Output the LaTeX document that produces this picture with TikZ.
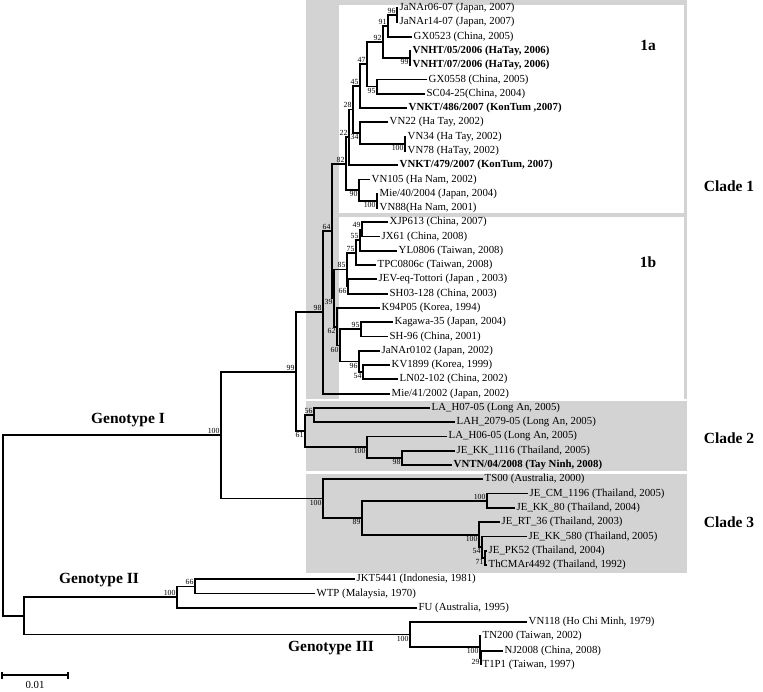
\documentclass[tikz,border=0pt]{standalone}
\usepackage{fontspec}
\setmainfont{Liberation Serif}
\definecolor{cladegray}{RGB}{211,211,211}

\begin{document}
\begin{tikzpicture}[x=1pt, y=-1pt,
  branch/.style={line width=1.8pt},
  taxon/.style={anchor=west, inner sep=1.5pt, font=\fontsize{10.8}{12}\selectfont},
  boot/.style={inner sep=1.3pt, font=\fontsize{7.8}{8}\selectfont},
  bootup/.style={boot, anchor=south east},
  bootdn/.style={boot, anchor=north east},
  group/.style={font=\bfseries\fontsize{15.5}{18}\selectfont}]
\useasboundingbox (0,0) rectangle (763,691);

% shaded clades
\fill[cladegray] (306,0) rectangle (687,399);
\fill[white] (339,5) rectangle (684,213);
\fill[white] (339,217) rectangle (684,399);
\fill[cladegray] (306,401) rectangle (687,471);
\fill[cladegray] (306,474) rectangle (687,573);

% taxa
\node[taxon] (t1) at (398,8.0) {JaNAr06-07 (Japan, 2007)};
\node[taxon] (t2) at (398,22.3) {JaNAr14-07 (Japan, 2007)};
\node[taxon] (t3) at (412,36.6) {GX0523 (China, 2005)};
\node[taxon] (t4) at (411,50.8) {\textbf{VNHT/05/2006 (HaTay, 2006)}};
\node[taxon] (t5) at (411,65.1) {\textbf{VNHT/07/2006 (HaTay, 2006)}};
\node[taxon] (t6) at (427,79.4) {GX0558 (China, 2005)};
\node[taxon] (t7) at (425,93.7) {SC04-25(China, 2004)};
\node[taxon] (t8) at (407,108.0) {\textbf{VNKT/486/2007 (KonTum ,2007)}};
\node[taxon] (t9) at (388,122.2) {VN22 (Ha Tay, 2002)};
\node[taxon] (t10) at (406,136.5) {VN34 (Ha Tay, 2002)};
\node[taxon] (t11) at (406,150.8) {VN78 (HaTay, 2002)};
\node[taxon] (t12) at (398,165.1) {\textbf{VNKT/479/2007 (KonTum, 2007)}};
\node[taxon] (t13) at (370,179.4) {VN105 (Ha Nam, 2002)};
\node[taxon] (t14) at (378,193.6) {Mie/40/2004 (Japan, 2004)};
\node[taxon] (t15) at (378,207.9) {VN88(Ha Nam, 2001)};
\node[taxon] (t16) at (388,222.2) {XJP613 (China, 2007)};
\node[taxon] (t17) at (380,236.5) {JX61 (China, 2008)};
\node[taxon] (t18) at (397,250.8) {YL0806 (Taiwan, 2008)};
\node[taxon] (t19) at (376,265.0) {TPC0806c (Taiwan, 2008)};
\node[taxon] (t20) at (377,279.3) {JEV-eq-Tottori (Japan , 2003)};
\node[taxon] (t21) at (388,293.6) {SH03-128 (China, 2003)};
\node[taxon] (t22) at (380,307.9) {K94P05 (Korea, 1994)};
\node[taxon] (t23) at (393,322.2) {Kagawa-35 (Japan, 2004)};
\node[taxon] (t24) at (388,336.4) {SH-96 (China, 2001)};
\node[taxon] (t25) at (380,350.7) {JaNAr0102 (Japan, 2002)};
\node[taxon] (t26) at (390,365.0) {KV1899 (Korea, 1999)};
\node[taxon] (t27) at (398,379.3) {LN02-102 (China, 2002)};
\node[taxon] (t28) at (390,393.6) {Mie/41/2002 (Japan, 2002)};
\node[taxon] (t29) at (430,407.8) {LA\_H07-05 (Long An, 2005)};
\node[taxon] (t30) at (455,422.1) {LAH\_2079-05 (Long An, 2005)};
\node[taxon] (t31) at (447,436.4) {LA\_H06-05 (Long An, 2005)};
\node[taxon] (t32) at (455,450.7) {JE\_KK\_1116 (Thailand, 2005)};
\node[taxon] (t33) at (452,465.0) {\textbf{VNTN/04/2008 (Tay Ninh, 2008)}};
\node[taxon] (t34) at (483,479.2) {TS00 (Australia, 2000)};
\node[taxon] (t35) at (528,493.5) {JE\_CM\_1196 (Thailand, 2005)};
\node[taxon] (t36) at (515,507.8) {JE\_KK\_80 (Thailand, 2004)};
\node[taxon] (t37) at (500,522.1) {JE\_RT\_36 (Thailand, 2003)};
\node[taxon] (t38) at (527,536.4) {JE\_KK\_580 (Thailand, 2005)};
\node[taxon] (t39) at (487,550.6) {JE\_PK52 (Thailand, 2004)};
\node[taxon] (t40) at (487,564.9) {ThCMAr4492 (Thailand, 1992)};
\node[taxon] (t41) at (355,579.2) {JKT5441 (Indonesia, 1981)};
\node[taxon] (t42) at (315,593.5) {WTP (Malaysia, 1970)};
\node[taxon] (t43) at (417,607.8) {FU (Australia, 1995)};
\node[taxon] (t44) at (527,622.0) {VN118 (Ho Chi Minh, 1979)};
\node[taxon] (t45) at (481,636.3) {TN200 (Taiwan, 2002)};
\node[taxon] (t46) at (503,650.6) {NJ2008 (China, 2008)};
\node[taxon] (t47) at (481,664.9) {T1P1 (Taiwan, 1997)};

% internal nodes
\coordinate (nJa) at (397,15.2);
\coordinate (nGX) at (388,25.9);
\coordinate (nHT) at (410,58.0);
\coordinate (nA92) at (383,41.9);
\coordinate (nSC) at (377,86.5);
\coordinate (nA47) at (367,64.2);
\coordinate (nA45) at (360,86.1);
\coordinate (nVN34) at (405,143.7);
\coordinate (nA34) at (360,133.0);
\coordinate (nA28) at (353,109.5);
\coordinate (nA22) at (349,137.3);
\coordinate (nMie) at (377,200.8);
\coordinate (nA90) at (359,190.1);
\coordinate (nA82) at (346,163.7);
\coordinate (nB49) at (362,229.4);
\coordinate (nB55) at (360,240.1);
\coordinate (nB75) at (356,252.6);
\coordinate (nB66) at (348,286.5);
\coordinate (nB85) at (347,269.5);
\coordinate (nB95) at (361,329.3);
\coordinate (nB54) at (363,372.2);
\coordinate (nB96) at (359,361.4);
\coordinate (nB60) at (340,345.4);
\coordinate (nB62) at (337,326.6);
\coordinate (nB39) at (334,298.1);
\coordinate (nC64) at (332,230.9);
\coordinate (nClade1) at (323,312.2);
\coordinate (nLA) at (314,415.0);
\coordinate (nTN) at (402,457.8);
\coordinate (nC100) at (367,447.1);
\coordinate (nClade2) at (305,431.1);
\coordinate (nC99) at (296,371.6);
\coordinate (nCM) at (487,500.7);
\coordinate (nPK) at (485,557.8);
\coordinate (nKK) at (482,547.1);
\coordinate (nRT) at (479,534.6);
\coordinate (nD89) at (362,517.6);
\coordinate (nClade3) at (323,498.4);
\coordinate (nGI) at (221,435.0);
\coordinate (nJKT) at (195,586.4);
\coordinate (nGII) at (177,597.1);
\coordinate (nNJ) at (481,657.7);
\coordinate (nTW) at (480,647.0);
\coordinate (nGIII) at (410,634.5);
\coordinate (nG23) at (24,615.8);
\coordinate (root) at (3,525.4);

% branches
\draw[branch] (t1.west) -| (nJa) |- (t2.west);
\draw[branch] (nJa) -| (nGX) |- (t3.west);
\draw[branch] (t4.west) -| (nHT) |- (t5.west);
\draw[branch] (nGX) -| (nA92) |- (nHT);
\draw[branch] (t6.west) -| (nSC) |- (t7.west);
\draw[branch] (nA92) -| (nA47) |- (nSC);
\draw[branch] (nA47) -| (nA45) |- (t8.west);
\draw[branch] (t10.west) -| (nVN34) |- (t11.west);
\draw[branch] (t9.west) -| (nA34) |- (nVN34);
\draw[branch] (nA45) -| (nA28) |- (nA34);
\draw[branch] (nA28) -| (nA22) |- (t12.west);
\draw[branch] (t14.west) -| (nMie) |- (t15.west);
\draw[branch] (t13.west) -| (nA90) |- (nMie);
\draw[branch] (nA22) -| (nA82) |- (nA90);
\draw[branch] (t16.west) -| (nB49) |- (t17.west);
\draw[branch] (nB49) -| (nB55) |- (t18.west);
\draw[branch] (nB55) -| (nB75) |- (t19.west);
\draw[branch] (t20.west) -| (nB66) |- (t21.west);
\draw[branch] (nB75) -| (nB85) |- (nB66);
\draw[branch] (t23.west) -| (nB95) |- (t24.west);
\draw[branch] (t26.west) -| (nB54) |- (t27.west);
\draw[branch] (t25.west) -| (nB96) |- (nB54);
\draw[branch] (nB95) -| (nB60) |- (nB96);
\draw[branch] (t22.west) -| (nB62) |- (nB60);
\draw[branch] (nB85) -| (nB39) |- (nB62);
\draw[branch] (nA82) -| (nC64) |- (nB39);
\draw[branch] (nC64) -| (nClade1) |- (t28.west);
\draw[branch] (t29.west) -| (nLA) |- (t30.west);
\draw[branch] (t32.west) -| (nTN) |- (t33.west);
\draw[branch] (t31.west) -| (nC100) |- (nTN);
\draw[branch] (nLA) -| (nClade2) |- (nC100);
\draw[branch] (nClade1) -| (nC99) |- (nClade2);
\draw[branch] (t35.west) -| (nCM) |- (t36.west);
\draw[branch] (t39.west) -| (nPK) |- (t40.west);
\draw[branch] (t38.west) -| (nKK) |- (nPK);
\draw[branch] (t37.west) -| (nRT) |- (nKK);
\draw[branch] (nCM) -| (nD89) |- (nRT);
\draw[branch] (t34.west) -| (nClade3) |- (nD89);
\draw[branch] (nC99) -| (nGI) |- (nClade3);
\draw[branch] (t41.west) -| (nJKT) |- (t42.west);
\draw[branch] (nJKT) -| (nGII) |- (t43.west);
\draw[branch] (t46.west) -| (nNJ) |- (t47.west);
\draw[branch] (t45.west) -| (nTW) |- (nNJ);
\draw[branch] (t44.west) -| (nGIII) |- (nTW);
\draw[branch] (nGII) -| (nG23) |- (nGIII);
\draw[branch] (nGI) -| (root) |- (nG23);

% bootstrap values
\node[bootup] at (nJa) {96};
\node[bootup] at (nGX) {91};
\node[bootup] at (nA92) {92};
\node[bootup] at (nA47) {47};
\node[bootup] at (nA45) {45};
\node[bootup] at (nA28) {28};
\node[bootup] at (nA22) {22};
\node[bootup] at (nA82) {82};
\node[bootup] at (nC64) {64};
\node[bootup] at (nB49) {49};
\node[bootup] at (nB55) {55};
\node[bootup] at (nB75) {75};
\node[bootup] at (nB85) {85};
\node[bootup] at (nB95) {95};
\node[bootup] at (nClade1) {98};
\node[bootup] at (nC99) {99};
\node[bootup] at (nLA) {56};
\node[bootup] at (nCM) {100};
\node[bootup] at (nGI) {100};
\node[bootup] at (nJKT) {66};
\node[bootup] at (nGII) {100};
\node[bootdn] at (nHT) {99};
\node[bootdn] at (nSC) {95};
\node[bootdn] at (nA34) {34};
\node[bootdn] at (nVN34) {100};
\node[bootdn] at (nMie) {100};
\node[bootdn] at (nA90) {90};
\node[bootdn] at (nB66) {66};
\node[bootdn] at (nB96) {96};
\node[bootdn] at (nB54) {54};
\node[bootdn] at (nB60) {60};
\node[bootdn] at (nB62) {62};
\node[bootdn] at (nB39) {39};
\node[bootdn] at (nC100) {100};
\node[bootdn] at (nTN) {98};
\node[bootdn] at (nClade2) {61};
\node[bootdn] at (nRT) {100};
\node[bootdn] at (nKK) {54};
\node[bootdn] at (nPK) {71};
\node[bootdn] at (nD89) {89};
\node[bootdn] at (nClade3) {100};
\node[bootdn] at (nTW) {100};
\node[bootdn] at (nNJ) {29};
\node[bootdn] at (nGIII) {100};

% group labels
\node[group] (gI) at (128,420) {Genotype I};
\node[group] (gII) at (99,580) {Genotype II};
\node[group] (gIII) at (331,648) {Genotype III};
\node[group] (c1) at (729,186) {Clade 1};
\node[group] (c2) at (729,438) {Clade 2};
\node[group] (c3) at (729,522) {Clade 3};
\node[group] (s1a) at (648,45) {1a};
\node[group] (s1b) at (648,262) {1b};

% scale bar
\coordinate (sbL) at (2,675);
\coordinate (sbR) at (68,675);
\draw[line width=1.2pt] (sbL) -- (sbR);
\draw[line width=1.2pt] (sbL) ++(0,-3.5) -- ++(0,7);
\draw[line width=1.2pt] (sbR) ++(0,-3.5) -- ++(0,7);
\node[taxon, anchor=north] (sb) at (35,680) {0.01};
\end{tikzpicture}
\end{document}
